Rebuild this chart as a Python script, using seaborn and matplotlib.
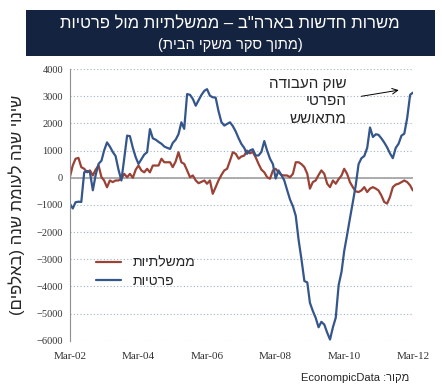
import numpy as np
import pandas as pd
import seaborn as sns
import matplotlib.pyplot as plt
import matplotlib.dates as mdates
from matplotlib.patches import Rectangle

# monthly year-over-year change (thousands), Mar-02 .. Mar-12
months = pd.date_range('2002-03-01', periods=121, freq='MS')

private = [-950, -1130, -900, -880, -890, 200, 250, 200, -460, 100,
           510, 630, 1000, 1300, 1150, 950, 800, 300, -100, 700,
           1550, 1530, 1100, 750, 510, 680, 850, 940, 1790, 1450,
           1400, 1320, 1250, 1150, 1100, 1060, 1280, 1400, 1600, 2040,
           1800, 3080, 3050, 2900, 2650, 2850, 3050, 3200, 3260, 3020,
           2960, 2950, 2460, 2050, 1920, 1980, 2040, 1900, 1700, 1450,
           1250, 1100, 880, 1000, 1050, 820, 820, 950, 1350, 1000,
           700, 500, -30, 270, 100, -100, -450, -800, -1050, -1400,
           -2300, -3000, -3800, -3850, -4600, -4900, -5150, -5500, -5300, -5400,
           -5700, -5950, -5500, -5150, -3950, -3450, -2700, -2100, -1500, -900,
           -300, 500, 720, 800, 1100, 1850, 1500, 1600, 1580, 1450,
           1300, 1120, 900, 720, 1100, 1250, 1550, 1620, 2200, 3050,
           3130]

government = [20, 450, 700, 730, 390, 330, 200, 270, 85, 300,
              450, 20, -100, -350, -100, -160, -100, -100, -35, 145,
              20, 145, 0, 300, 450, 270, 200, 330, 200, 450,
              450, 450, 700, 570, 570, 570, 390, 600, 940, 570,
              510, 270, 20, 85, -100, -200, -150, -100, -220, -100,
              -590, -345, -100, 100, 270, 330, 630, 940, 880, 700,
              780, 815, 1000, 900, 950, 755, 510, 300, 200, 20,
              -35, 270, 330, 200, 100, 85, 85, 20, 145, 570,
              570, 500, 390, 145, -400, -160, -100, 100, 270, 145,
              -220, -345, -100, -220, -50, 85, 330, 145, -160, -345,
              -500, -525, -465, -345, -525, -400, -345, -400, -465, -650,
              -890, -950, -710, -345, -250, -220, -160, -100, -160, -280,
              -465]

gov_label = 'ממשלתיות'
priv_label = 'פרטיות'
title1 = 'משרות חדשות בארה"ב – ממשלתיות מול פרטיות'
title2 = '(מתוך סקר משקי הבית)'
ylabel = 'שינוי שנה לעומת שנה (באלפים)'
note_lines = ['שוק העבודה', 'הפרטי', 'מתאושש']
source = 'מקור:'


def heb(s):
    # matplotlib has no bidi: put hebrew in visual order
    swap = {'(': ')', ')': '('}
    return ''.join(swap.get(c, c) for c in s[::-1])


sns.set_style('white')
plt.rcParams['font.family'] = ['Liberation Sans', 'DejaVu Sans']

df = pd.DataFrame({'date': months, gov_label: government, priv_label: private})
long = df.melt(id_vars='date', var_name='series', value_name='value')
long['series'] = long['series'].map(heb)

fig = plt.figure(figsize=(4.42, 3.9), dpi=100)
ax = fig.add_axes([0.158, 0.126, 0.776, 0.697])

colors = {heb(gov_label): '#9b4236', heb(priv_label): '#34568b'}
sns.lineplot(data=long, x='date', y='value', hue='series', palette=colors,
             linewidth=1.6, ax=ax)

ax.set_ylim(-6000, 4000)
ax.set_yticks(range(-6000, 4001, 1000))
ax.set_xlim(months[0], months[-1])
ax.set_xticks(pd.date_range('2002-03-01', '2012-03-01', freq='24MS'))
ax.xaxis.set_major_formatter(mdates.DateFormatter('%b-%y'))
ax.grid(axis='y', color='#9fb3c8', linestyle=(0, (1, 2)), linewidth=0.8)
ax.axhline(0, color='#a0a0a0', linewidth=1.2, zorder=1)
for s in ['top', 'right', 'bottom']:
    ax.spines[s].set_visible(False)
ax.spines['left'].set_color('#909090')
ax.tick_params(axis='y', length=3, color='#909090', labelsize=7.5, pad=2)
ax.tick_params(axis='x', length=0, labelsize=8, pad=8)
for lab in ax.get_xticklabels() + ax.get_yticklabels():
    lab.set_family(['Liberation Serif', 'DejaVu Serif'])
    lab.set_color('#333333')
ax.set_xlabel('')
ax.set_ylabel(heb(ylabel), fontsize=12, labelpad=8)

leg = ax.legend(loc='upper left', bbox_to_anchor=(0.04, 0.36), frameon=False,
                fontsize=10, handlelength=1.8, labelspacing=0.3)

ax.text(0.808, 0.97, '\n'.join(heb(l) for l in note_lines), transform=ax.transAxes,
        ha='right', va='top', fontsize=11, linespacing=1.3, multialignment='right')
ax.annotate('', xy=(months[116], 3240), xytext=(months[101], 2980),
            arrowprops=dict(arrowstyle='->', color='black', lw=0.7))

fig.patches.append(Rectangle((0.059, 0.856), 0.925, 0.118, transform=fig.transFigure,
                             facecolor='#14233f', edgecolor='none', zorder=0))
fig.text(0.521, 0.938, heb(title1), color='white', ha='center', va='center', fontsize=12)
fig.text(0.521, 0.885, heb(title2), color='white', ha='center', va='center', fontsize=10.5)
fig.text(0.925, 0.03, 'EconompicData ' + ':' + heb('מקור'), ha='right', va='center', fontsize=8)

fig.savefig('out.png', dpi=100)
